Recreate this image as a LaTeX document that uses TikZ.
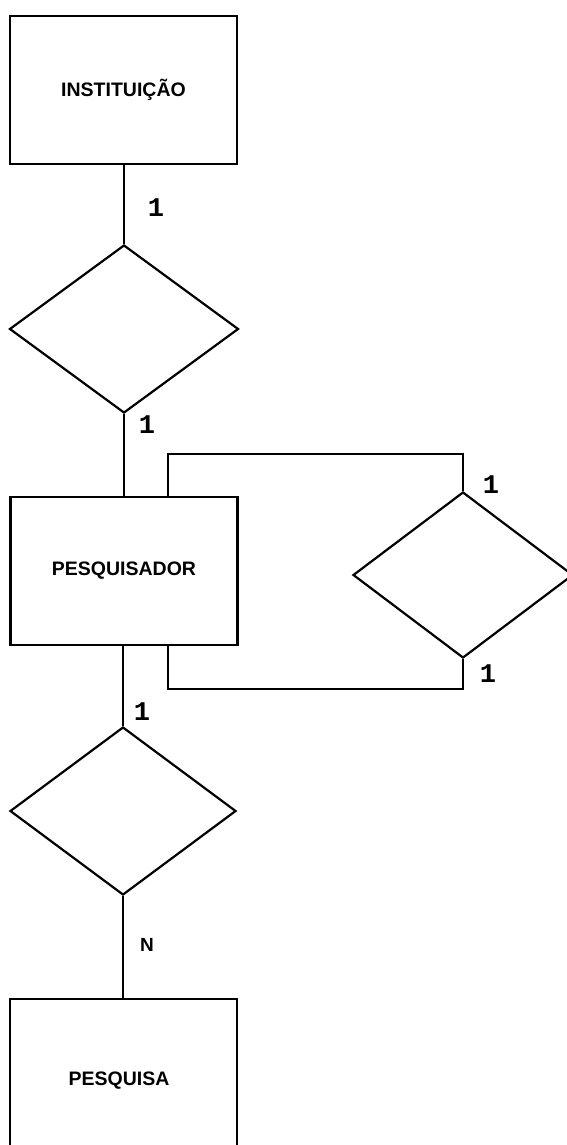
\documentclass[tikz,border=0pt]{standalone}
\usepackage{fontspec}
\setmainfont{Liberation Sans}
\newfontfamily\onefont{Liberation Mono}
\usetikzlibrary{shapes.geometric}
\begin{document}
\begin{tikzpicture}[x=1pt,y=-1pt,
  line width=2.2pt,
  entity/.style={draw, rectangle, minimum width=227pt, minimum height=148pt, inner sep=0pt,
    font=\bfseries\fontsize{19.5}{24}\selectfont},
  rel/.style={draw, diamond, inner sep=0pt},
  card/.style={font=\onefont\bfseries\fontsize{27}{29}\selectfont, inner sep=0pt},
  ncard/.style={font=\bfseries\fontsize{19}{21}\selectfont, inner sep=0pt}]
\useasboundingbox (0,0) rectangle (566,1145);
% entities
\node[entity] (inst) at (123.5,90) {INSTITUIÇÃO};
\node[entity] (pesq) at (124,571) {PESQUISADOR};
\node[entity, minimum height=170pt] (pesquisa) at (123.5,1084) {};
\node[font=\bfseries\fontsize{19.5}{24}\selectfont, inner sep=0pt] (pesquisatxt) at (119,1081) {PESQUISA};
% relationships
\node[rel, minimum width=229pt, minimum height=168pt] (d1) at (124,329) {};
\node[rel, minimum width=220pt, minimum height=166pt] (d2) at (463,575) {};
\node[rel, minimum width=226pt, minimum height=168pt] (d3) at (123,811) {};
% connectors
\draw (inst.south -| d1.north) -- (d1.north);
\draw (d1.south) -- (pesq.north -| d1.south);
\draw (pesq.south -| d3.north) -- (d3.north);
\draw (d3.south) -- (pesquisa.north -| d3.south);
\coordinate (lx) at (168,0);
\draw (pesq.north -| lx) -- ++(0,-42) -| (d2.north);
\draw (pesq.south -| lx) -- ++(0,43) -| (d2.south);
% cardinalities
\node[card] (c1) at (156,208) {1};
\node[card] (c2) at (147,425) {1};
\node[card] (c3) at (491,485) {1};
\node[card] (c4) at (488,674) {1};
\node[card] (c5) at (142,712) {1};
\node[ncard] (c6) at (147,945) {N};
\end{tikzpicture}
\end{document}
